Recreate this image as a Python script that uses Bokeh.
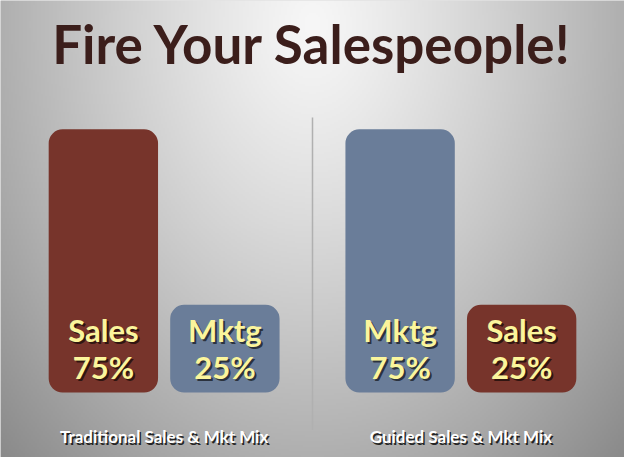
import numpy as np
from bokeh.plotting import figure
from bokeh.models import FactorRange, Range1d, ColumnDataSource
from bokeh.core.properties import value
from bokeh.embed import file_html
from bokeh.resources import INLINE

# ---- data ----
title_text = "Fire Your Salespeople!"
groups = ["Traditional Sales & Mkt Mix", "Guided Sales & Mkt Mix"]
channels = [["Sales", "Mktg"], ["Mktg", "Sales"]]
shares = [[75, 25], [75, 25]]

# ---- styles ----
W, H = 624, 457
channel_colors = {"Sales": "#77342b", "Mktg": "#6a7d99"}
label_color = "#fbf59c"
title_color = "#3b1e1b"
GROUP_PAD, RANGE_PAD = 0.442, 0.156
Y0, Y1 = -18.5, 111.7

factors = [(g, c) for g, cs in zip(groups, channels) for c in cs]
vals = [v for vs in shares for v in vs]
src = ColumnDataSource(dict(
    x=factors,
    top=vals,
    color=[channel_colors[f[1]] for f in factors],
    name=[f[1] for f in factors],
    pct=[f"{v}%" for v in vals],
    base=[0] * len(vals),
))

xr = FactorRange(*factors, factor_padding=0.0, group_padding=GROUP_PAD,
                 range_padding=RANGE_PAD, range_padding_units="percent")
p = figure(width=W, height=H, output_backend="svg", toolbar_location=None,
           x_range=xr, y_range=Range1d(Y0, Y1), min_border=0)
p.axis.visible = False
p.xgrid.visible = False
p.ygrid.visible = False
p.outline_line_color = None
p.background_fill_color = "#c8c8c8"
p.border_fill_color = "#c8c8c8"

# synthetic extent of the categorical range (for decorations in frame fractions)
span = len(factors) + GROUP_PAD * (len(groups) - 1)
XS, XE = -span * RANGE_PAD / 2, span + span * RANGE_PAD / 2
fx = lambda f: XS + f * (XE - XS)
fy = lambda f: Y0 + f * (Y1 - Y0)

# background gradient (decoration)
nx, ny = 312, 229
X, Y = np.meshgrid(np.linspace(0, 1, nx), np.linspace(0, 1, ny))
d = np.sqrt(((X - 0.5) / 0.66) ** 2 + ((Y - 0.95) / 1.25) ** 2)
b = np.clip(247 - 100 * d ** 1.2, 120, 250).astype(np.uint32)
img = ((255 << 24) | (b << 16) | (b << 8) | b).astype(np.uint32)
p.image_rgba(image=[img], x=XS, y=Y0, dw=XE - XS, dh=Y1 - Y0)

# divider
p.segment(x0=[fx(0.5)], x1=[fx(0.5)], y0=[fy(0.06)], y1=[fy(0.744)],
          line_color="#b0b0b0", line_width=1.5)

# title
p.text(x=[fx(0.5)], y=[fy(0.905)], text=[title_text], text_font=value("Lato"),
       text_font_style="bold", text_font_size="53px", text_color=title_color,
       text_align="center", text_baseline="alphabetic")

# bars
p.vbar(x="x", top="top", bottom=0, width=0.9, source=src, fill_color="color",
       line_color=None, border_radius=14)

# in-bar labels with shadow
for col, off in (("name", -63), ("pct", -26)):
    p.text(x="x", y="base", text=col, source=src, text_font=value("Lato"),
           text_font_style="bold", text_font_size="31px", text_color="black",
           text_alpha=0.6, text_align="center", text_baseline="alphabetic",
           x_offset=2, y_offset=off + 2)
    p.text(x="x", y="base", text=col, source=src, text_font=value("Lato"),
           text_font_style="bold", text_font_size="31px", text_color=label_color,
           text_align="center", text_baseline="alphabetic", y_offset=off)

# group labels
gsrc = ColumnDataSource(dict(x=groups, y=[0] * len(groups)))
p.text(x="x", y="y", text="x", source=gsrc, text_font=value("Lato"),
       text_font_style="bold", text_font_size="17px", text_color="black",
       text_alpha=0.8, text_align="center", text_baseline="alphabetic",
       x_offset=1.5, y_offset=45.5)
p.text(x="x", y="y", text="x", source=gsrc, text_font=value("Lato"),
       text_font_style="bold", text_font_size="17px", text_color="white",
       text_align="center", text_baseline="alphabetic", y_offset=44)

open("out.html", "w").write(file_html(p, INLINE))
